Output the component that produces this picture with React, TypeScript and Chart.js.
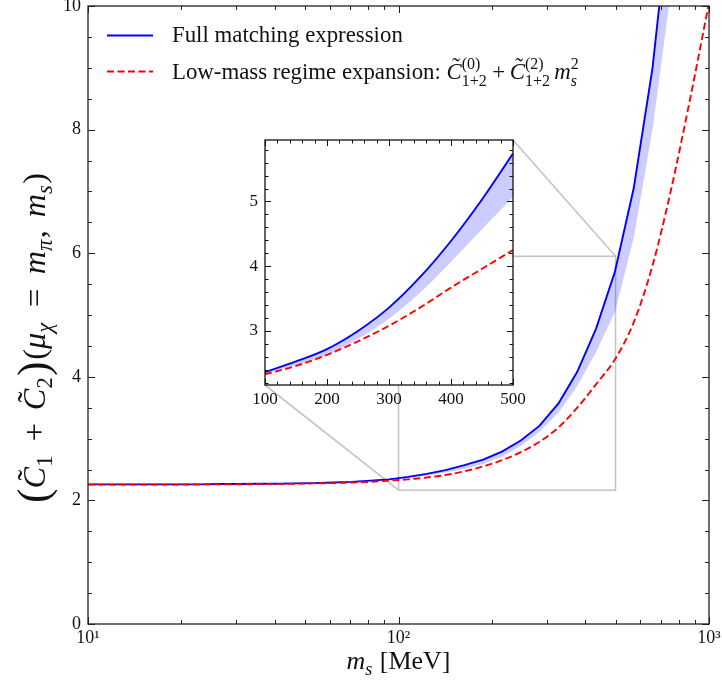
import React, { useEffect, useRef } from "react";
import { Chart, registerables } from "chart.js";
Chart.register(...registerables);

const FONT = "'Liberation Serif', 'DejaVu Serif', serif";

// ---------------- data ----------------
const massGrid = [10, 11.5, 13.22, 15.2, 17.48, 20.09, 23.1, 26.56, 30.54, 35.11, 40.37, 46.42, 53.37, 61.36, 70.55, 81.11, 93.26, 107.2, 123.3, 141.7, 163.0, 187.4, 215.4, 247.7, 284.8, 327.5, 376.5, 432.9, 497.7, 572.2, 657.9, 756.5, 869.7, 1000];
const fullMatching = [2.26, 2.26, 2.26, 2.26, 2.26, 2.26, 2.26, 2.265, 2.265, 2.27, 2.27, 2.275, 2.28, 2.29, 2.3, 2.32, 2.34, 2.38, 2.43, 2.49, 2.57, 2.66, 2.79, 2.97, 3.21, 3.57, 4.08, 4.78, 5.7, 7.05, 9.0, 11.8, 15.5, 20.0];
const bandLower = [2.255, 2.255, 2.255, 2.255, 2.255, 2.255, 2.255, 2.26, 2.26, 2.265, 2.265, 2.27, 2.275, 2.28, 2.29, 2.305, 2.325, 2.36, 2.4, 2.45, 2.51, 2.59, 2.71, 2.88, 3.11, 3.42, 3.85, 4.4, 5.05, 6.25, 8.0, 10.3, 13.5, 17.5];
const lowMassExpansion = [2.255, 2.255, 2.255, 2.255, 2.255, 2.255, 2.26, 2.26, 2.26, 2.265, 2.265, 2.27, 2.275, 2.28, 2.29, 2.3, 2.32, 2.34, 2.37, 2.41, 2.47, 2.55, 2.65, 2.78, 2.95, 3.18, 3.5, 3.88, 4.28, 4.88, 5.8, 7.05, 8.5, 10.05];

const insetMass = [100, 150, 200, 250, 300, 350, 400, 450, 500];
const insetFull = [2.365, 2.53, 2.72, 3.0, 3.36, 3.83, 4.39, 5.03, 5.74];
const insetBandLower = [2.34, 2.47, 2.63, 2.88, 3.19, 3.59, 4.07, 4.57, 5.07];
const insetLowMass = [2.33, 2.46, 2.63, 2.84, 3.08, 3.36, 3.67, 3.96, 4.25];

const mainXTicks = [10, 100, 1000];
const mainYTicks = [0, 2, 4, 6, 8, 10];
const insetXTicks = [100, 200, 300, 400, 500];
const insetYTicks = [3, 4, 5];
const zoomXRange = [100, 500];
const zoomYRange = [2.165, 5.95];

const legendLabels = ["Full matching expression", "Low-mass regime expansion: "];

// minor tick values
const mainXMinor: number[] = [];
for (const d of [10, 100]) for (let k = 2; k <= 9; k++) mainXMinor.push(k * d);
const mainYMinor: number[] = [];
for (let k = 1; k < 20; k++) if (k % 4 !== 0) mainYMinor.push(k * 0.5);
const insetXMinor: number[] = [];
for (let v = 100; v <= 500; v += 20) if (v % 100 !== 0) insetXMinor.push(v);
const insetYMinor: number[] = [];
for (let k = 11; k <= 29; k++) if (k % 5 !== 0) insetYMinor.push(k * 0.2);

// ---------------- math text helper ----------------
type Piece = { t?: string; it?: boolean; r?: number; dy?: number; tilde?: boolean; sup?: string; sub?: string; supIt?: boolean; subIt?: boolean; gap?: number };

function font(ctx: CanvasRenderingContext2D, size: number, it: boolean) {
  ctx.font = `${it ? "italic " : ""}${size}px ${FONT}`;
}

function runPieces(ctx: CanvasRenderingContext2D, pieces: Piece[], base: number, x: number, y: number, draw: boolean): number {
  let cx = x;
  for (const p of pieces) {
    if (p.gap) { cx += p.gap * base; continue; }
    if (p.sup !== undefined || p.sub !== undefined) {
      const s = base * 0.7;
      let w = 0;
      if (p.sup !== undefined) {
        font(ctx, s, !!p.supIt);
        w = Math.max(w, ctx.measureText(p.sup).width);
        if (draw) ctx.fillText(p.sup, cx, y - base * 0.42);
      }
      if (p.sub !== undefined) {
        font(ctx, s, !!p.subIt);
        w = Math.max(w, ctx.measureText(p.sub).width);
        if (draw) ctx.fillText(p.sub, cx, y + base * (p.sup !== undefined ? 0.3 : 0.22));
      }
      cx += w + base * 0.04;
      continue;
    }
    const s = base * (p.r ?? 1);
    font(ctx, s, !!p.it);
    const t = p.t ?? "";
    const w = ctx.measureText(t).width;
    if (draw) {
      ctx.fillText(t, cx, y + (p.dy ?? 0) * base);
      if (p.tilde) {
        font(ctx, s, false);
        const tw = ctx.measureText("\u02DC").width;
        ctx.fillText("\u02DC", cx + w * 0.62 - tw / 2, y - s * 0.2);
      }
    }
    cx += w;
  }
  return cx - x;
}

function fitBase(ctx: CanvasRenderingContext2D, pieces: Piece[], target: number) {
  const w = runPieces(ctx, pieces, 20, 0, 0, false);
  return (20 * target) / w;
}

const yTitlePieces: Piece[] = [
  { t: "(", r: 1.35, dy: 0.08 }, { t: "C", it: true, tilde: true }, { sub: "1" }, { gap: 0.4 }, { t: "+" }, { gap: 0.4 },
  { t: "C", it: true, tilde: true }, { sub: "2" }, { t: ")", r: 1.35, dy: 0.08 }, { gap: 0.05 }, { t: "(" }, { t: "\u03BC", it: true }, { sub: "\u03C7", subIt: true },
  { gap: 0.45 }, { t: "=" }, { gap: 0.45 }, { t: "m", it: true }, { sub: "\u03C0", subIt: true }, { t: "," }, { gap: 0.4 },
  { t: "m", it: true }, { sub: "s", subIt: true }, { t: ")" },
];
const xTitlePieces: Piece[] = [{ t: "m", it: true }, { sub: "s", subIt: true }, { gap: 0.25 }, { t: "[MeV]" }];
const legend1Pieces: Piece[] = [{ t: legendLabels[0] }];
const legend2Pieces: Piece[] = [
  { t: legendLabels[1] }, { t: "C", it: true, tilde: true }, { sup: "(0)", sub: "1+2" }, { gap: 0.2 }, { t: "+" }, { gap: 0.2 },
  { t: "C", it: true, tilde: true }, { sup: "(2)", sub: "1+2" }, { gap: 0.15 }, { t: "m", it: true }, { sup: "2", sub: "s", subIt: true },
];

// ---------------- ticks / frame ----------------
function drawTicksFrame(chart: any, xMaj: number[], xMin: number[], yMaj: number[], yMin: number[], maj: number, min: number, color: string, frameW: number) {
  const { ctx, chartArea: a } = chart;
  const xs = chart.scales.x, ys = chart.scales.y;
  ctx.save();
  ctx.strokeStyle = color;
  ctx.lineWidth = 1;
  ctx.beginPath();
  const vx = (v: number, len: number) => {
    const p = Math.round(xs.getPixelForValue(v)) + 0.5;
    ctx.moveTo(p, a.bottom); ctx.lineTo(p, a.bottom - len);
    ctx.moveTo(p, a.top); ctx.lineTo(p, a.top + len);
  };
  const hy = (v: number, len: number) => {
    const p = Math.round(ys.getPixelForValue(v)) + 0.5;
    ctx.moveTo(a.left, p); ctx.lineTo(a.left + len, p);
    ctx.moveTo(a.right, p); ctx.lineTo(a.right - len, p);
  };
  xMaj.forEach((v) => vx(v, maj));
  xMin.forEach((v) => vx(v, min));
  yMaj.forEach((v) => hy(v, maj));
  yMin.forEach((v) => hy(v, min));
  ctx.stroke();
  ctx.lineWidth = frameW;
  ctx.strokeRect(a.left, a.top, a.right - a.left, a.bottom - a.top);
  ctx.restore();
}

const supMap: Record<string, string> = { "1": "\u00B9", "2": "\u00B2", "3": "\u00B3" };

function pts(xs: number[], ys: number[]) {
  return xs.map((x, i) => ({ x, y: ys[i] }));
}

function zeroPad(s: any) {
  s.paddingTop = 0; s.paddingBottom = 0; s.paddingLeft = 0; s.paddingRight = 0;
}

export default function App() {
  const mainRef = useRef<HTMLCanvasElement>(null);
  const insetRef = useRef<HTMLCanvasElement>(null);

  useEffect(() => {
    const insetPlugin = {
      id: "insetDecor",
      beforeDraw(chart: any) {
        const { ctx, chartArea: a } = chart;
        ctx.save();
        ctx.fillStyle = "#ffffff";
        ctx.fillRect(a.left, a.top, a.right - a.left, a.bottom - a.top);
        ctx.restore();
      },
      afterDraw(chart: any) {
        drawTicksFrame(chart, insetXTicks, insetXMinor, insetYTicks, insetYMinor, 6, 3.5, "#111", 1.3);
      },
    };

    const inset = new Chart(insetRef.current!, {
      type: "line",
      data: {
        datasets: [
          { data: pts(insetMass, insetFull), borderColor: "#0000ff", borderWidth: 1.9, pointRadius: 0, fill: false, order: 2, cubicInterpolationMode: "monotone" },
          { data: pts(insetMass, insetBandLower), borderColor: "rgba(0,0,0,0)", borderWidth: 0, pointRadius: 0, fill: "-1", backgroundColor: "rgba(0,0,255,0.2)", order: 3, cubicInterpolationMode: "monotone" },
          { data: pts(insetMass, insetLowMass), borderColor: "#ff0000", borderWidth: 1.9, borderDash: [7, 3.5], pointRadius: 0, fill: false, order: 1, cubicInterpolationMode: "monotone" },
        ],
      } as any,
      options: {
        animation: false,
        responsive: false,
        devicePixelRatio: 1,
        events: [],
        layout: { padding: { left: 235, top: 140, right: 209, bottom: 270 } },
        plugins: { legend: { display: false }, tooltip: { enabled: false } },
        scales: {
          x: {
            type: "linear", min: zoomXRange[0], max: zoomXRange[1],
            grid: { display: false, drawTicks: false }, border: { display: false },
            ticks: { color: "#111", font: { family: FONT, size: 17 }, padding: 4, maxRotation: 0, autoSkip: false },
            afterBuildTicks: (s: any) => { s.ticks = insetXTicks.map((value) => ({ value })); },
            afterFit: (s: any) => { s.height = 30; zeroPad(s); },
          },
          y: {
            type: "linear", min: zoomYRange[0], max: zoomYRange[1],
            grid: { display: false, drawTicks: false }, border: { display: false },
            ticks: { color: "#111", font: { family: FONT, size: 17 }, padding: 7, autoSkip: false },
            afterBuildTicks: (s: any) => { s.ticks = insetYTicks.map((value) => ({ value })); },
            afterFit: (s: any) => { s.width = 30; zeroPad(s); },
          },
        },
      } as any,
      plugins: [insetPlugin],
    });

    const mainPlugin = {
      id: "mainDecor",
      beforeDatasetsDraw(chart: any) {
        const { ctx } = chart;
        const xs = chart.scales.x, ys = chart.scales.y;
        const x1 = xs.getPixelForValue(zoomXRange[0]);
        const x2 = xs.getPixelForValue(zoomXRange[1]);
        const y1 = ys.getPixelForValue(zoomYRange[0]);
        const y2 = ys.getPixelForValue(zoomYRange[1]);
        ctx.save();
        ctx.strokeStyle = "#c4c4c4";
        ctx.lineWidth = 1.6;
        ctx.strokeRect(x1, y2, x2 - x1, y1 - y2);
        const ia = inset.chartArea;
        if (ia) {
          ctx.beginPath();
          ctx.moveTo(ia.right, ia.top); ctx.lineTo(x2, y2);
          ctx.moveTo(ia.left, ia.bottom); ctx.lineTo(x1, y1);
          ctx.stroke();
        }
        ctx.restore();
      },
      afterDraw(chart: any) {
        const { ctx, chartArea: a } = chart;
        drawTicksFrame(chart, mainXTicks, mainXMinor, mainYTicks, mainYMinor, 7, 4, "#222", 1.3);
        ctx.save();
        ctx.fillStyle = "#111";
        ctx.textBaseline = "alphabetic";
        ctx.textAlign = "left";
        // legend
        ctx.lineWidth = 1.9;
        ctx.strokeStyle = "#0000ff";
        ctx.beginPath(); ctx.moveTo(107, 35.5); ctx.lineTo(153, 35.5); ctx.stroke();
        ctx.strokeStyle = "#ff0000";
        ctx.setLineDash([7, 3.5]);
        ctx.beginPath(); ctx.moveTo(107, 71.5); ctx.lineTo(153, 71.5); ctx.stroke();
        ctx.setLineDash([]);
        const lb = fitBase(ctx, legend1Pieces, 231);
        runPieces(ctx, legend1Pieces, lb, 172, 42, true);
        runPieces(ctx, legend2Pieces, lb, 172, 79, true);
        // x title
        const xb = fitBase(ctx, xTitlePieces, 104);
        const xw = runPieces(ctx, xTitlePieces, xb, 0, 0, false);
        runPieces(ctx, xTitlePieces, xb, (a.left + a.right) / 2 - xw / 2, 669, true);
        // y title
        const yb = fitBase(ctx, yTitlePieces, 330);
        const yw = runPieces(ctx, yTitlePieces, yb, 0, 0, false);
        ctx.translate(45, 338);
        ctx.rotate(-Math.PI / 2);
        runPieces(ctx, yTitlePieces, yb, -yw / 2, 0, true);
        ctx.restore();
      },
    };

    const main = new Chart(mainRef.current!, {
      type: "line",
      data: {
        datasets: [
          { data: pts(massGrid, fullMatching), borderColor: "#0000ff", borderWidth: 1.9, pointRadius: 0, fill: false, order: 2 },
          { data: pts(massGrid, bandLower), borderColor: "rgba(0,0,0,0)", borderWidth: 0, pointRadius: 0, fill: "-1", backgroundColor: "rgba(0,0,255,0.2)", order: 3 },
          { data: pts(massGrid, lowMassExpansion), borderColor: "#ff0000", borderWidth: 1.9, borderDash: [7, 3.5], pointRadius: 0, fill: false, order: 1, cubicInterpolationMode: "monotone" },
        ],
      } as any,
      options: {
        animation: false,
        responsive: false,
        devicePixelRatio: 1,
        events: [],
        layout: { padding: { left: 0, top: 6, right: 13, bottom: 0 } },
        plugins: { legend: { display: false }, tooltip: { enabled: false } },
        scales: {
          x: {
            type: "logarithmic", min: 10, max: 1000,
            grid: { display: false, drawTicks: false }, border: { display: false },
            ticks: {
              color: "#111", font: { family: FONT, size: 18 }, padding: 3, maxRotation: 0, autoSkip: false,
              callback: (v: any) => {
                const e = Math.round(Math.log10(Number(v)));
                return "10" + (supMap[String(e)] ?? "");
              },
            },
            afterBuildTicks: (s: any) => { s.ticks = mainXTicks.map((value) => ({ value })); },
            afterFit: (s: any) => { s.height = 61; zeroPad(s); },
          },
          y: {
            type: "linear", min: 0, max: 10,
            grid: { display: false, drawTicks: false }, border: { display: false },
            ticks: { color: "#111", font: { family: FONT, size: 18 }, padding: 7, autoSkip: false },
            afterBuildTicks: (s: any) => { s.ticks = mainYTicks.map((value) => ({ value })); },
            afterFit: (s: any) => { s.width = 88; zeroPad(s); },
          },
        },
      } as any,
      plugins: [mainPlugin],
    });

    return () => {
      main.destroy();
      inset.destroy();
    };
  }, []);

  return (
    <div style={{ position: "absolute", left: 0, top: 0, width: 722, height: 685, background: "#ffffff" }}>
      <canvas ref={mainRef} width={722} height={685} style={{ position: "absolute", left: 0, top: 0, width: 722, height: 685 }} />
      <canvas ref={insetRef} width={722} height={685} style={{ position: "absolute", left: 0, top: 0, width: 722, height: 685 }} />
    </div>
  );
}
